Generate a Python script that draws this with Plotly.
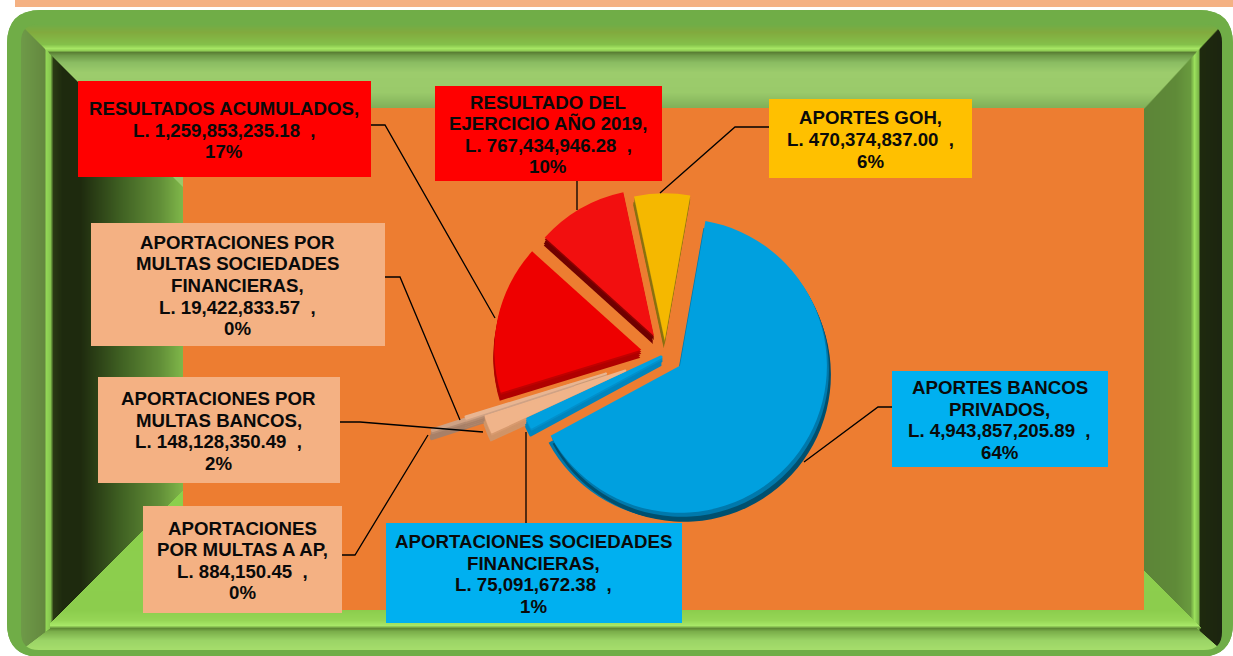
import plotly.graph_objects as go

categories = ["APORTES BANCOS<br>PRIVADOS,", "APORTACIONES SOCIEDADES<br>FINANCIERAS,", "APORTACIONES POR<br>MULTAS BANCOS,",
              "APORTACIONES<br>POR MULTAS A AP,", "APORTACIONES POR<br>MULTAS SOCIEDADES<br>FINANCIERAS,",
              "RESULTADOS ACUMULADOS,", "RESULTADO DEL<br>EJERCICIO AÑO 2019,", "APORTES GOH,"]
values = [4943857205.89, 75091672.38, 148128350.49, 884150.45, 19422833.57, 1259853235.18, 767434946.28, 470374837.00]
percents = ["64%", "1%", "2%", "0%", "0%", "17%", "10%", "6%"]
pulls = [0.125, 0.03, 0.29, 0.66, 0.42, 0.165, 0.15, 0.10]
face_colors = ["#00A0DF", "#00A0DF", "#F0B48A", "#CFA285", "#E8B592", "#EE0000", "#F20F0F", "#F5B800"]
mid_colors = ["#0079AC", "#0090CC", "#D89A6E", "#B58C72", "#C89A78", "#C00000", "#900000", "#A98A10"]
rim_colors = ["#00506F", "#0085BE", "#D09468", "#A88068", "#B88C6C", "#B00000", "#700000", "#8A7010"]
line_widths = [0, 3, 2, 4, 2, 0, 0, 0]
label_colors = ["#00B0F0", "#00B0F0", "#F4B183", "#F4B183", "#F4B183", "#FF0000", "#FF0000", "#FFC000"]
label_boxes = [(892, 371, 1108, 467), (386, 523, 682, 623), (98, 377, 340, 483), (143, 506, 342, 613),
               (91, 223, 385, 346), (78, 81, 371, 177), (435, 86, 662, 181), (769, 99, 972, 178)]
leader_lines = [[(892, 407), (878, 407), (804, 462)], [(526, 523), (526, 432)], [(340, 422), (360, 422), (483, 432)],
                [(342, 555), (355, 555), (428, 435)], [(385, 277), (400, 277), (460, 420)],
                [(371, 125), (385, 125), (495, 318)], [(577, 181), (577, 210)], [(769, 127), (735, 127), (660, 193)]]

W, H = 1233, 656
CX, CY, R = 665, 355, 147
ROT = 10
LINE_H = 21.6
shapes = []


def hexrgb(c):
    return tuple(int(c[i:i + 2], 16) for i in (1, 3, 5))


def grad(stops, t):
    for (a, ca), (b, cb) in zip(stops, stops[1:]):
        if t <= b:
            f = (t - a) / (b - a) if b > a else 0
            f = max(0, f)
            x, y = hexrgb(ca), hexrgb(cb)
            return "rgb(%d,%d,%d)" % tuple(round(p + (q - p) * f) for p, q in zip(x, y))
    return stops[-1][1]


def poly(pts, fill):
    d = "M" + " L".join(f"{x},{y}" for x, y in pts) + " Z"
    shapes.append(dict(type="path", path=d, fillcolor=fill, line=dict(width=0), xref="x", yref="y", layer="below"))


def rrect(x0, y0, x1, y1, r, rev=False):
    if rev:
        return (f"M{x0 + r},{y0} Q{x0},{y0} {x0},{y0 + r} L{x0},{y1 - r} Q{x0},{y1} {x0 + r},{y1} "
                f"L{x1 - r},{y1} Q{x1},{y1} {x1},{y1 - r} L{x1},{y0 + r} Q{x1},{y0} {x1 - r},{y0} Z")
    return (f"M{x0 + r},{y0} L{x1 - r},{y0} Q{x1},{y0} {x1},{y0 + r} L{x1},{y1 - r} Q{x1},{y1} {x1 - r},{y1} "
            f"L{x0 + r},{y1} Q{x0},{y1} {x0},{y1 - r} L{x0},{y0 + r} Q{x0},{y0} {x0 + r},{y0} Z")


# page strip + outer frame
poly([(15, 0), (W, 0), (W, 7), (15, 7)], "#F4B183")
shapes.append(dict(type="path", path=rrect(7, 10, W, H + 1, 34), fillcolor="#70AD47", line=dict(width=0), layer="below"))

# left column
left = [(21, "#6E9A48"), (44, "#64883F"), (46, "#92D656"), (50, "#86C54E"), (53, "#2A3A14"), (62, "#1E2A0E"),
        (80, "#1E2A0E"), (120, "#3F6022"), (160, "#628F38"), (183, "#80B84A")]
for x in range(21, 183):
    poly([(x, 24), (x + 1.6, 24), (x + 1.6, 650), (x, 650)], grad(left, x))
# right column
right = [(1144, "#5C8538"), (1175, "#5F8A38"), (1190, "#699A3E"), (1194, "#9BE05C"), (1198, "#7DB84A"), (1200, "#1E2A0E"),
         (1222, "#1C2410")]
for x in range(1144, 1222):
    poly([(x, 24), (x + 1.6, 24), (x + 1.6, 650), (x, 650)], grad(right, x))

# top band
top = [(24, "#70AD47"), (32, "#82AA3E"), (44, "#84C04A"), (48, "#A6E664"), (50, "#92D056"), (52, "#5A7F34"), (55, "#6E9A48"),
       (62, "#8ABC62"), (72, "#9CCC6C"), (92, "#9ACA6A"), (108, "#7FAE58"), (186, "#9ACA6A")]
for y in range(24, 186):
    if y <= 55:
        xl, xr = 21 + (y - 24), 1222 - (y - 24) * 29 / 31
    else:
        xl, xr = 52 + (y - 55), 1193 - (y - 55) * 49 / 53 if y <= 108 else 1144
    poly([(xl, y), (xr, y), (xr, y + 1.6), (xl, y + 1.6)], grad(top, y))

# bottom band
bottom = [(490, "#8BD04C"), (610, "#8CCD4D"), (620, "#96D656"), (625, "#A8E868"), (628, "#5F8A35"), (631, "#7AAE4A"),
          (640, "#9BD466"), (650, "#A6DE6C")]
for y in range(490, 650):
    if y >= 628:
        xl, xr = 50 - (y - 628) * 29 / 22, 1197 + (y - 628) * 25 / 22
    else:
        xl = max(50, 183 - (y - 490))
        xr = 1144 + max(0, y - 570)
    poly([(xl, y), (xr, y), (xr, y + 1.6), (xl, y + 1.6)], grad(bottom, y))

# corner mask (rounded inner edge)
shapes.append(dict(type="path", path=rrect(7, 10, W, H + 1, 34) + " " + rrect(21, 24, 1222, 650, 18, rev=True),
                   fillcolor="#70AD47", line=dict(width=0), layer="below"))
# orange plot area
poly([(183, 108), (1144, 108), (1144, 610), (183, 610)], "#ED7D31")

# label boxes and leader lines
for box, col in zip(label_boxes, label_colors):
    x0, y0, x1, y1 = box
    poly([(x0, y0), (x1, y0), (x1, y1), (x0, y1)], col)
for pts in leader_lines:
    d = "M" + " L".join(f"{x},{y}" for x, y in pts)
    shapes.append(dict(type="path", path=d, line=dict(color="#000000", width=1.3), layer="above"))

annotations = []
for cat, val, pct, box in zip(categories, values, percents, label_boxes):
    x0, y0, x1, y1 = box
    lines = cat.split("<br>") + [f"L. {val:,.2f}\u00a0\u00a0,", pct]
    start = (y0 + y1) / 2 - LINE_H * (len(lines) - 1) / 2 + 1
    for i, line in enumerate(lines):
        annotations.append(dict(x=(x0 + x1) / 2 - 0.5, y=start + i * LINE_H, xref="x", yref="y", showarrow=False,
                                align="center", text=f"<b>{line}</b>", xanchor="center", yanchor="middle",
                                font=dict(family="Liberation Sans, Arial, sans-serif", size=18.67, color="#0A0A0A")))


def pie(dx, dy, colors, widths):
    half = R * (1 + max(pulls))
    return go.Pie(values=values, labels=[c.replace("<br>", " ") for c in categories], pull=pulls, sort=False,
                  direction="clockwise", rotation=ROT, textinfo="none", showlegend=False, hoverinfo="skip",
                  marker=dict(colors=colors, line=dict(color=colors, width=widths)),
                  domain=dict(x=[(CX + dx - half) / W, (CX + dx + half) / W],
                              y=[1 - (CY + dy + half) / H, 1 - (CY + dy - half) / H]))


CLEAR = "rgba(0,0,0,0)"


def only_blue(cols):
    return [c if i == 0 else CLEAR for i, c in enumerate(cols)]


def not_blue(cols):
    return [CLEAR if i == 0 else c for i, c in enumerate(cols)]


fig = go.Figure()
for dx, dy, cols in [(-2, 7, only_blue(mid_colors)), (4, 9, only_blue(rim_colors)), (2, 8, only_blue(rim_colors)),
                     (3, 6, only_blue(rim_colors)), (2, 4, only_blue(mid_colors)),
                     (1, 2, only_blue(mid_colors)),
                     (-1, 8, not_blue(rim_colors)), (-1, 6, not_blue(rim_colors)), (0, 4, not_blue(rim_colors)),
                     (0, 2, not_blue(mid_colors)), (0, 0, face_colors)]:
    fig.add_trace(pie(dx, dy, cols, line_widths))

fig.update_layout(width=W, height=H, autosize=False, margin=dict(l=0, r=0, t=0, b=0), paper_bgcolor="#FFFFFF",
                  plot_bgcolor="rgba(0,0,0,0)", shapes=shapes, annotations=annotations,
                  xaxis=dict(range=[0, W], visible=False, fixedrange=True),
                  yaxis=dict(range=[H, 0], visible=False, fixedrange=True))
fig.write_html("out.html", config={"displayModeBar": False}, default_width=W, default_height=H,
               post_script="document.body.style.margin='0';document.documentElement.style.overflow='hidden';")
